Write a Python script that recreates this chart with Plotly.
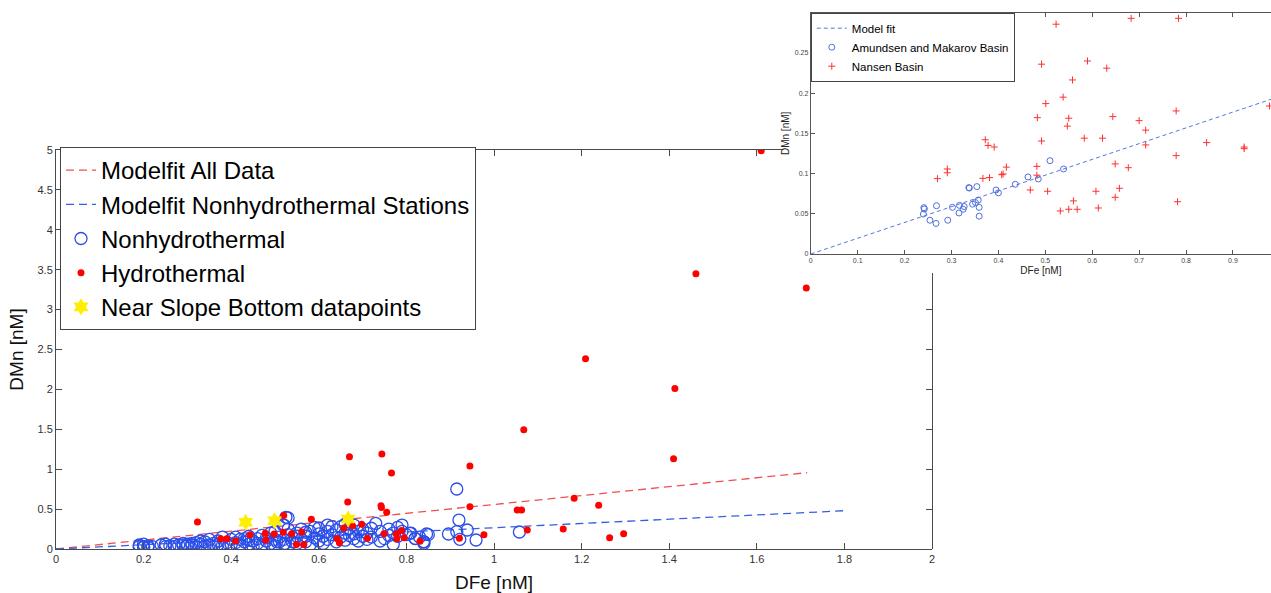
import plotly.graph_objects as go

W, H = 1271, 593

# ---------------- main chart data ----------------
fit_all_x = [0.0, 1.715]
fit_all_y = [0.0, 0.957]
fit_non_x = [0.0, 1.80]
fit_non_y = [0.0, 0.480]

non_x = [0.19, 0.20, 0.20, 0.21, 0.21, 0.22, 0.19, 0.20,
         0.24, 0.25, 0.26, 0.27, 0.27, 0.28, 0.29, 0.30, 0.30, 0.25,
         0.31, 0.32, 0.32, 0.33, 0.34, 0.34, 0.35, 0.35, 0.36, 0.36, 0.37, 0.37,
         0.38, 0.38, 0.39, 0.40, 0.40, 0.33, 0.31, 0.29,
         0.41, 0.41, 0.42, 0.42, 0.43, 0.44, 0.44, 0.45, 0.45, 0.46, 0.46, 0.47,
         0.47, 0.48, 0.48, 0.49, 0.49, 0.50, 0.50, 0.50, 0.43, 0.44,
         0.51, 0.51, 0.52, 0.52, 0.53, 0.53, 0.53, 0.52, 0.54, 0.54, 0.55, 0.55,
         0.56, 0.56, 0.57, 0.57, 0.58, 0.58, 0.59, 0.59, 0.60, 0.60, 0.60, 0.55, 0.57,
         0.525, 0.519, 0.504, 0.523,
         0.61, 0.61, 0.62, 0.62, 0.63, 0.63, 0.64, 0.64, 0.65, 0.65, 0.66, 0.66,
         0.67, 0.67, 0.68, 0.68, 0.69, 0.69, 0.70, 0.70, 0.62, 0.66, 0.68,
         0.71, 0.71, 0.72, 0.73, 0.74, 0.74, 0.75, 0.76, 0.77, 0.77, 0.78, 0.78,
         0.79, 0.79, 0.80, 0.76, 0.72,
         0.81, 0.82, 0.83, 0.84, 0.85, 0.84, 0.808, 0.82, 0.839, 0.846,
         0.915, 0.92, 0.896, 0.915, 0.939, 0.922, 0.959, 1.058]
non_y = [0.05, 0.03, 0.02, 0.04, 0.02, 0.03, 0.03, 0.06,
         0.05, 0.06, 0.04, 0.06, 0.03, 0.05, 0.07, 0.04, 0.06, 0.03,
         0.05, 0.03, 0.08, 0.06, 0.04, 0.09, 0.05, 0.12, 0.07, 0.03, 0.06, 0.10,
         0.04, 0.15, 0.08, 0.06, 0.12, 0.10, 0.07, 0.05,
         0.08, 0.15, 0.05, 0.12, 0.09, 0.06, 0.16, 0.10, 0.03, 0.13, 0.07, 0.17,
         0.05, 0.10, 0.14, 0.20, 0.07, 0.12, 0.22, 0.04, 0.13, 0.11,
         0.09, 0.15, 0.06, 0.12, 0.18, 0.25, 0.39, 0.30, 0.09, 0.14, 0.20, 0.07,
         0.12, 0.25, 0.16, 0.09, 0.22, 0.05, 0.14, 0.27, 0.10, 0.19, 0.26, 0.16, 0.21,
         0.397, 0.30, 0.09, 0.07,
         0.07, 0.16, 0.22, 0.12, 0.28, 0.18, 0.09, 0.24, 0.15, 0.28, 0.20, 0.11,
         0.26, 0.17, 0.13, 0.30, 0.22, 0.10, 0.16, 0.25, 0.30, 0.31, 0.19,
         0.20, 0.12, 0.15, 0.32, 0.22, 0.10, 0.13, 0.25, 0.20, 0.06, 0.27, 0.16,
         0.30, 0.22, 0.18, 0.17, 0.26,
         0.20, 0.13, 0.15, 0.09, 0.18, 0.07, 0.197, 0.134, 0.091, 0.188,
         0.752, 0.363, 0.188, 0.217, 0.238, 0.121, 0.113, 0.213]

hyd_x = [1.61, 1.461, 1.713, 1.209, 1.413, 1.410, 1.068, 0.670, 0.744, 0.766,
         0.945, 0.323, 0.520, 0.583, 0.666, 0.742, 0.743, 0.755, 0.945, 1.053,
         1.063, 0.921, 0.977, 0.376, 0.390, 0.410, 0.443, 0.478, 0.479, 0.498,
         0.519, 0.538, 0.549, 0.566, 0.561, 0.642, 0.647, 0.657, 0.677, 0.698,
         0.711, 0.749, 0.777, 0.778, 0.789, 0.795, 0.831, 1.076, 1.158, 1.183,
         1.239, 1.264, 1.296]
hyd_y = [4.99, 3.45, 3.27, 2.385, 2.01, 1.13, 1.495, 1.157, 1.19, 0.952,
         1.04, 0.338, 0.42, 0.372, 0.589, 0.543, 0.52, 0.46, 0.53, 0.489,
         0.489, 0.134, 0.18, 0.129, 0.129, 0.10, 0.18, 0.196, 0.113, 0.188,
         0.209, 0.19, 0.056, 0.056, 0.213, 0.13, 0.079, 0.262, 0.29, 0.31,
         0.134, 0.192, 0.188, 0.129, 0.233, 0.142, 0.096, 0.238, 0.25, 0.635,
         0.547, 0.142, 0.192]

slope_x = [0.433, 0.499, 0.667]
slope_y = [0.335, 0.355, 0.376]

main_xticks = [0, 0.2, 0.4, 0.6, 0.8, 1, 1.2, 1.4, 1.6, 1.8, 2]
main_yticks = [0, 0.5, 1, 1.5, 2, 2.5, 3, 3.5, 4, 4.5, 5]

# ---------------- inset data ----------------
ins_fit_x = [0.0, 1.0]
ins_fit_y = [0.0, 0.196]

am_x = [0.241, 0.242, 0.240, 0.254, 0.268, 0.267, 0.292, 0.302, 0.317, 0.316,
        0.325, 0.327, 0.337, 0.338, 0.345, 0.351, 0.354, 0.357, 0.359, 0.359,
        0.395, 0.400, 0.436, 0.463, 0.485, 0.510, 0.539]
am_y = [0.0576, 0.056, 0.0497, 0.042, 0.060, 0.038, 0.042, 0.058, 0.0605, 0.051,
        0.0556, 0.059, 0.0825, 0.082, 0.062, 0.064, 0.0838, 0.067, 0.058, 0.047,
        0.0796, 0.076, 0.0867, 0.0958, 0.0933, 0.116, 0.1057]

nan_x = [0.270, 0.291, 0.291, 0.367, 0.381, 0.372, 0.378, 0.391, 0.407, 0.410,
         0.417, 0.468, 0.482, 0.482, 0.505, 0.492, 0.532, 0.550, 0.568, 0.560,
         0.608, 0.613, 0.649, 0.649, 0.658, 0.677, 0.714, 0.779, 0.782, 0.844,
         0.924, 0.924, 0.683, 0.784, 0.523, 0.492, 0.590, 0.631, 0.558, 0.538,
         0.501, 0.483, 0.550, 0.547, 0.644, 0.700, 0.779, 0.714, 0.583, 0.622,
         0.978]
nan_y = [0.0937, 0.1057, 0.101, 0.094, 0.095, 0.142, 0.135, 0.133, 0.0986, 0.0995,
         0.108, 0.0796, 0.109, 0.098, 0.078, 0.1405, 0.0535, 0.0556, 0.0556, 0.066,
         0.078, 0.0572, 0.112, 0.0705, 0.0817, 0.1073, 0.1356, 0.1223, 0.065, 0.1385,
         0.133, 0.131, 0.293, 0.293, 0.2857, 0.236, 0.240, 0.231, 0.2164, 0.195,
         0.187, 0.1695, 0.1688, 0.159, 0.1708, 0.1658, 0.1779, 0.154, 0.144, 0.144,
         0.184]

ins_xticks = [0, 0.1, 0.2, 0.3, 0.4, 0.5, 0.6, 0.7, 0.8, 0.9]
ins_yticks = [0, 0.05, 0.1, 0.15, 0.2, 0.25]

# ---------------- layout geometry (pixels) ----------------
mx0, mx1 = 56, 932          # main plot x pixel extent
my0, my1 = 549, 150         # main plot y pixel extent (bottom, top)
inset_left, inset_bottom = 782, 273   # edge of the white inset block
ix0, ix1 = 810.8, 1271
iy0, iy1 = 254, 12.7
main_xrange = [0, 2]
main_yrange = [0, 5]
ins_xrange = [0, (ix1 - ix0) / 469.0]
ins_yrange = [0, 0.30]

top_frac = (inset_left - mx0) / (mx1 - mx0)
right_frac = (my0 - inset_bottom) / (my0 - my1)

FONT = "Liberation Sans, Arial, sans-serif"
AXC = "#4a4a4a"

fig = go.Figure()

# main traces
fig.add_trace(go.Scatter(x=fit_all_x, y=fit_all_y, mode="lines", name="Modelfit All Data",
                         line=dict(color="#f05050", dash="8px,5px", width=1.3),
                         xaxis="x", yaxis="y", legend="legend"))
fig.add_trace(go.Scatter(x=fit_non_x, y=fit_non_y, mode="lines", name="Modelfit Nonhydrothermal Stations",
                         line=dict(color="#3560e0", dash="8px,5px", width=1.3),
                         xaxis="x", yaxis="y", legend="legend"))
fig.add_trace(go.Scatter(x=non_x, y=non_y, mode="markers", name="Nonhydrothermal",
                         marker=dict(symbol="circle-open", size=12, color="#2a4ee8", line=dict(width=1.3)),
                         xaxis="x", yaxis="y", legend="legend"))
fig.add_trace(go.Scatter(x=hyd_x, y=hyd_y, mode="markers", name="Hydrothermal",
                         marker=dict(symbol="circle", size=7, color="#ff0000"),
                         xaxis="x", yaxis="y", legend="legend"))
fig.add_trace(go.Scatter(x=slope_x, y=slope_y, mode="markers", name="Near Slope Bottom datapoints",
                         marker=dict(symbol="hexagram", size=13, color="#ffee00"),
                         xaxis="x", yaxis="y", legend="legend"))

# helper (empty) traces so the partial top/right frame axes get drawn
fig.add_trace(go.Scatter(x=[], y=[], xaxis="x3", yaxis="y", showlegend=False, hoverinfo="skip"))
fig.add_trace(go.Scatter(x=[], y=[], xaxis="x", yaxis="y3", showlegend=False, hoverinfo="skip"))

# inset traces
fig.add_trace(go.Scatter(x=ins_fit_x, y=ins_fit_y, mode="lines", name="Model fit",
                         line=dict(color="#5577e0", dash="4px,3px", width=1),
                         xaxis="x2", yaxis="y2", legend="legend2"))
fig.add_trace(go.Scatter(x=am_x, y=am_y, mode="markers", name="Amundsen and Makarov Basin",
                         marker=dict(symbol="circle-open", size=6, color="#4f6fe0", line=dict(width=1)),
                         xaxis="x2", yaxis="y2", legend="legend2"))
fig.add_trace(go.Scatter(x=nan_x, y=nan_y, mode="markers", name="Nansen Basin",
                         marker=dict(symbol="cross-thin-open", size=5, color="#ff3030", line=dict(width=1, color="#ff3030")),
                         xaxis="x2", yaxis="y2", legend="legend2"))

main_common = dict(showgrid=False, zeroline=False, showline=True, linecolor=AXC, linewidth=1,
                   ticks="inside", ticklen=6, tickcolor=AXC, automargin=False,
                   tickfont=dict(family=FONT, size=11, color="#333"))
ins_common = dict(showgrid=False, zeroline=False, showline=True, linecolor="#555", linewidth=1,
                  ticks="inside", ticklen=4, tickcolor="#555", automargin=False,
                  tickfont=dict(family=FONT, size=7, color="#444"))

fig.update_layout(
    width=W, height=H,
    margin=dict(l=0, r=0, t=0, b=0, autoexpand=False),
    paper_bgcolor="white", plot_bgcolor="rgba(0,0,0,0)",
    font=dict(family=FONT),
    xaxis=dict(domain=[mx0 / W, mx1 / W], range=main_xrange, tickvals=main_xticks,
               anchor="y", mirror=False,
               title=dict(text="DFe [nM]", font=dict(family=FONT, size=19, color="#111"), standoff=12),
               **main_common),
    yaxis=dict(domain=[1 - my0 / H, 1 - my1 / H], range=main_yrange, tickvals=main_yticks,
               anchor="x", mirror=False,
               title=dict(text="DMn [nM]", font=dict(family=FONT, size=19, color="#111"), standoff=8),
               **main_common),
    xaxis3=dict(domain=[mx0 / W, inset_left / W], range=[main_xrange[0], main_xrange[1] * top_frac],
                tickvals=main_xticks, showticklabels=False, anchor="y", side="top",
                **main_common),
    yaxis3=dict(domain=[1 - my0 / H, 1 - inset_bottom / H], range=[main_yrange[0], main_yrange[1] * right_frac],
                tickvals=main_yticks, showticklabels=False, anchor="x", side="right",
                **main_common),
    xaxis2=dict(domain=[ix0 / W, ix1 / W], range=ins_xrange, tickvals=ins_xticks,
                anchor="y2", mirror="ticks",
                title=dict(text="DFe [nM]", font=dict(family=FONT, size=10, color="#222"), standoff=3),
                **ins_common),
    yaxis2=dict(domain=[1 - iy0 / H, 1 - iy1 / H], range=ins_yrange, tickvals=ins_yticks,
                anchor="x2", mirror=False,
                title=dict(text="DMn [nM]", font=dict(family=FONT, size=10, color="#222"), standoff=3),
                **ins_common),
    showlegend=True,
    legend=dict(x=60 / W, y=1 - 147 / H, xanchor="left", yanchor="top",
                bgcolor="white", bordercolor="#444", borderwidth=1,
                font=dict(family=FONT, size=24, color="#000"),
                tracegroupgap=0),
    legend2=dict(x=ix0 / W, y=1 - iy1 / H, xanchor="left", yanchor="top",
                 bgcolor="white", bordercolor="#444", borderwidth=1,
                 font=dict(family=FONT, size=11.5, color="#000"),
                 tracegroupgap=0),
)

fig.write_html("out.html")
